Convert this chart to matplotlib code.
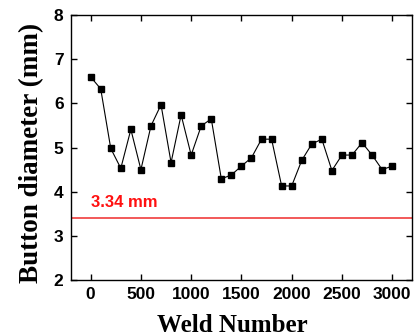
import matplotlib
matplotlib.use("Agg")
import matplotlib.pyplot as plt

# weld number vs button diameter
weld = [0, 100, 200, 300, 400, 500, 600, 700, 800, 900, 1000,
        1100, 1200, 1300, 1400, 1500, 1600, 1700, 1800, 1900, 2000,
        2100, 2200, 2300, 2400, 2500, 2600, 2700, 2800, 2900, 3000]
diameter = [6.60, 6.33, 4.98, 4.53, 5.41, 4.50, 5.49, 5.97, 4.66, 5.74, 4.83,
            5.49, 5.65, 4.29, 4.38, 4.58, 4.77, 5.19, 5.19, 4.13, 4.13,
            4.71, 5.08, 5.19, 4.48, 4.83, 4.83, 5.11, 4.83, 4.50, 4.58]
limit_value = 3.41
limit_label = "3.34 mm"
xticks = [0, 500, 1000, 1500, 2000, 2500, 3000]
yticks = [2, 3, 4, 5, 6, 7, 8]

fig = plt.figure(figsize=(4.15, 3.36), dpi=100)
ax = fig.add_axes([0.170, 0.1667, 0.8235, 0.7883])

ax.plot(weld, diameter, color="black", linewidth=0.8, marker="s",
        markersize=4.3, markerfacecolor="black", markeredgecolor="black")
ax.axhline(limit_value, color="#f03c3c", linewidth=1.2)
ax.text(0, 3.76, limit_label, color="#ff1010", fontsize=12, fontweight="bold",
        family="Liberation Sans", va="center", ha="left")

ax.set_xlim(-200, 3200)
ax.set_ylim(2, 8)
ax.set_xticks(xticks)
ax.set_yticks(yticks)
ax.tick_params(direction="in", length=4, width=1, top=True, right=True,
               labelsize=12.5, pad=5)
for lab in ax.get_xticklabels() + ax.get_yticklabels():
    lab.set_fontweight("bold")
    lab.set_family("Liberation Sans")
for sp in ax.spines.values():
    sp.set_linewidth(1.0)

ax.set_xlabel("Weld Number", family="Liberation Serif", fontweight="bold",
              fontsize=18)
ax.set_ylabel("Button diameter (mm)", family="Liberation Serif",
              fontweight="bold", fontsize=19.5)
ax.xaxis.set_label_coords(0.4737, -0.13)
ax.yaxis.set_label_coords(-0.077, 0.479)

fig.savefig("out.png", dpi=100)
